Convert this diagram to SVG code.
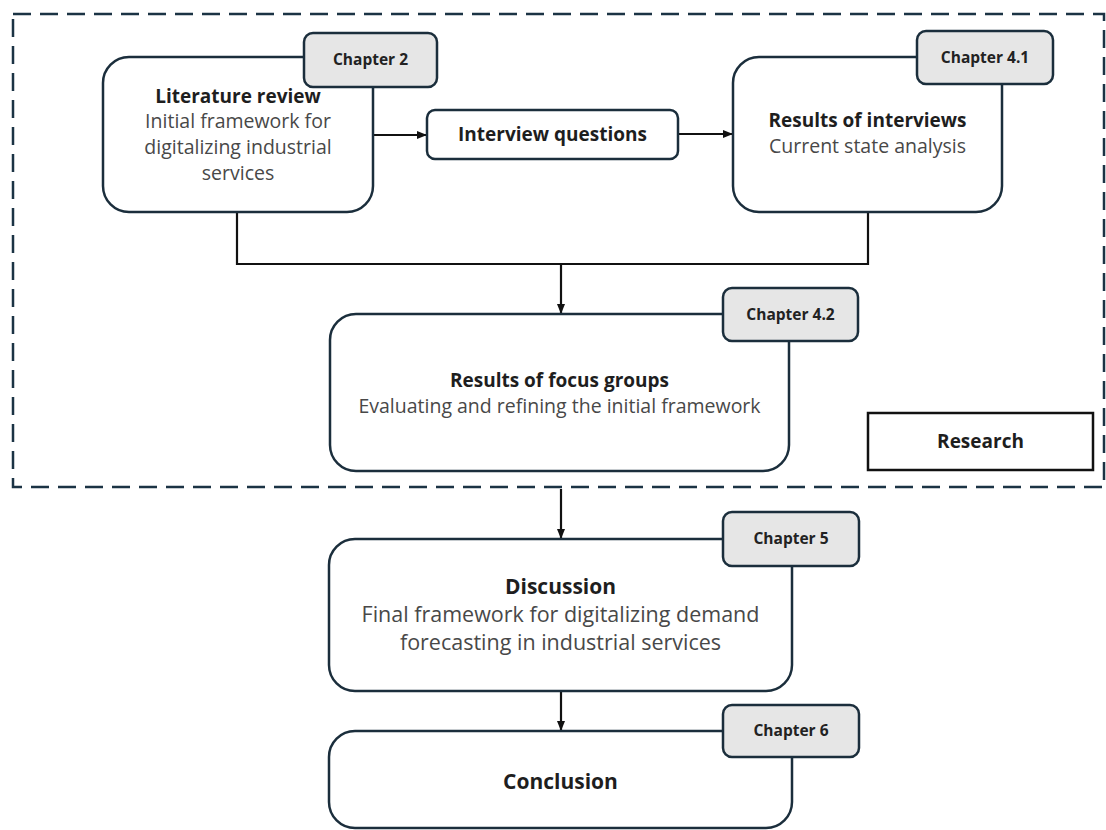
<svg xmlns="http://www.w3.org/2000/svg" width="1106" height="830" viewBox="0 0 1106 830">
<style>
.box{fill:#fff;stroke:#1b2e3c;stroke-width:2.5}
.tab{fill:#e6e6e6;stroke:#1b2e3c;stroke-width:2.5}
.conn{fill:none;stroke:#111;stroke-width:2.2}
.tt{font-family:"Open Sans","Liberation Sans",Arial,sans-serif;font-weight:bold;font-size:15.5px;fill:#222;text-anchor:middle}
.h{font-family:"Open Sans","Liberation Sans",Arial,sans-serif;font-weight:bold;font-size:19px;fill:#1e1e1e;text-anchor:middle}
.b{font-family:"Open Sans","Liberation Sans",Arial,sans-serif;font-size:19.5px;fill:#484848;text-anchor:middle}
</style>
<defs>
<marker id="ah" markerWidth="10" markerHeight="10" refX="9" refY="5" orient="auto" markerUnits="userSpaceOnUse">
<path d="M0,1 L10,5 L0,9 Z" fill="#111"/>
</marker>
</defs>
<rect x="0" y="0" width="1106" height="830" fill="#fff"/>
<g id="research-frame">
<rect x="13" y="14" width="1091" height="473" fill="none" stroke="#1b3344" stroke-width="2.5" stroke-dasharray="18,9"/>
</g>
<g id="connectors">
<line class="conn" x1="373" y1="135" x2="426" y2="135" marker-end="url(#ah)"/>
<line class="conn" x1="678" y1="134" x2="732" y2="134" marker-end="url(#ah)"/>
<polyline class="conn" points="237,212 237,264 868,264 868,212"/>
<line class="conn" x1="561" y1="264" x2="561" y2="313" marker-end="url(#ah)"/>
<line class="conn" x1="561" y1="489" x2="561" y2="538" marker-end="url(#ah)"/>
<line class="conn" x1="561" y1="691" x2="561" y2="730" marker-end="url(#ah)"/>
</g>
<g id="literature-review">
<rect class="box" x="103" y="57" width="270" height="155" rx="26"/>
<text class="h" x="238" y="103">Literature review</text>
<text class="b" x="238" y="128">Initial framework for</text>
<text class="b" x="238" y="154">digitalizing industrial</text>
<text class="b" x="238" y="180">services</text>
</g>
<g id="chapter-2">
<rect class="tab" x="304" y="33" width="133" height="54" rx="9"/>
<text class="tt" x="370.5" y="65">Chapter 2</text>
</g>
<g id="interview-questions">
<rect class="box" x="427" y="110" width="251" height="49" rx="8"/>
<text class="h" x="552.5" y="141">Interview questions</text>
</g>
<g id="results-interviews">
<rect class="box" x="733" y="57" width="269" height="155" rx="26"/>
<text class="h" x="867.5" y="127">Results of interviews</text>
<text class="b" x="867.5" y="153">Current state analysis</text>
</g>
<g id="chapter-4-1">
<rect class="tab" x="917" y="31" width="136" height="53" rx="9"/>
<text class="tt" x="985" y="63">Chapter 4.1</text>
</g>
<g id="results-focus">
<rect class="box" x="330" y="314" width="459" height="157" rx="26"/>
<text class="h" x="559.5" y="387">Results of focus groups</text>
<text class="b" x="559.5" y="413">Evaluating and refining the initial framework</text>
</g>
<g id="chapter-4-2">
<rect class="tab" x="723" y="288" width="135" height="53" rx="9"/>
<text class="tt" x="790.5" y="320">Chapter 4.2</text>
</g>
<g id="research-label">
<rect x="868" y="413" width="225" height="57" fill="#fff" stroke="#111" stroke-width="2.5"/>
<text class="h" x="980.5" y="448">Research</text>
</g>
<g id="discussion">
<rect class="box" x="329" y="539" width="463" height="152" rx="26"/>
<text class="h" x="560.5" y="594" style="font-size:21px">Discussion</text>
<text class="b" x="560.5" y="622" style="font-size:21.5px">Final framework for digitalizing demand</text>
<text class="b" x="560.5" y="650" style="font-size:21.5px">forecasting in industrial services</text>
</g>
<g id="chapter-5">
<rect class="tab" x="723" y="512" width="136" height="54" rx="9"/>
<text class="tt" x="791" y="544">Chapter 5</text>
</g>
<g id="conclusion">
<rect class="box" x="329" y="731" width="463" height="97" rx="26"/>
<text class="h" x="560.5" y="789" style="font-size:21px">Conclusion</text>
</g>
<g id="chapter-6">
<rect class="tab" x="723" y="705" width="136" height="52" rx="9"/>
<text class="tt" x="791" y="736">Chapter 6</text>
</g>
</svg>
